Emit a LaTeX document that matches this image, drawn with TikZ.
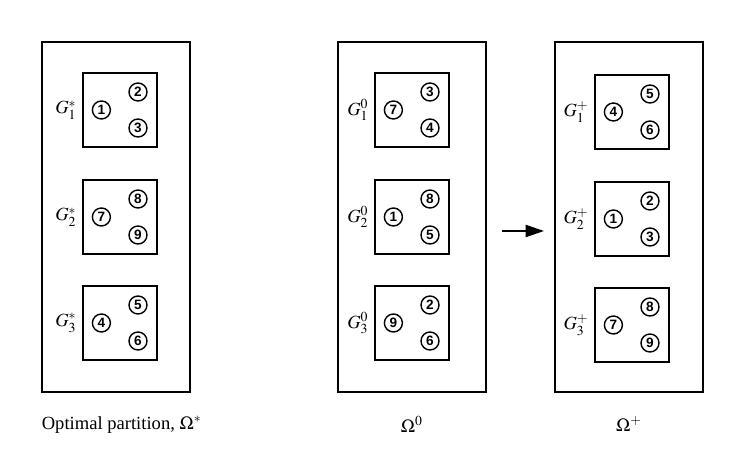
\documentclass[tikz,border=0pt]{standalone}
\usepackage{mathptmx}
\usepackage{fontspec}
\setmainfont{Liberation Serif}
\newfontfamily\digitfont{Liberation Sans}
\usetikzlibrary{calc, positioning, arrows.meta}

\tikzset{
	panel/.style={draw, line width=1.3pt, minimum width=103.6pt, minimum height=245pt},
	groupbox/.style={draw, line width=1.3pt, minimum width=51.8pt, minimum height=51.8pt},
	item/.style={draw, circle, line width=1pt, minimum size=12.6pt, inner sep=0pt,
	             font=\digitfont\bfseries\fontsize{9.5}{9.5}\selectfont},
	caption/.style={font=\fontsize{13}{13}\selectfont}
}

% one group: name, centre, label, members
\newcommand{\partgroup}[6]{%
	\node [groupbox] (#1) at (#2) {};
	\node [left=0.5pt of #1, font=\fontsize{13}{13}\selectfont] (#1lab) {$#3$};
	\node [item] (#1a) at ($(#1)+(-18.6,0)$) {#4};
	\node [item] (#1b) at ($(#1)+(18,-18)$) {#5};
	\node [item] (#1c) at ($(#1)+(18,18)$) {#6};
}

\begin{document}
\begin{tikzpicture}[x=0.7pt, y=-0.7pt]
	\useasboundingbox (0,0) rectangle (737,468);

	% the three partitions
	\node [panel] (P1) at (116,217)   {};
	\node [panel] (P2) at (411.8,217) {};
	\node [panel] (P3) at (629,217)   {};

	\partgroup{A1}{120,110}{G_1^*}{1}{2}{3}
	\partgroup{A2}{120,217}{G_2^*}{7}{8}{9}
	\partgroup{A3}{120,323}{G_3^*}{4}{5}{6}

	\partgroup{B1}{412,110}{G_1^0}{7}{3}{4}
	\partgroup{B2}{412,217}{G_2^0}{1}{8}{5}
	\partgroup{B3}{412,323}{G_3^0}{9}{2}{6}

	\partgroup{C1}{632,112}{G_1^+}{4}{5}{6}
	\partgroup{C2}{632,219}{G_2^+}{1}{2}{3}
	\partgroup{C3}{632,325}{G_3^+}{7}{8}{9}

	% captions
	\node [caption, anchor=north west] (cap1) at ([xshift=-3pt, yshift=-13pt]P1.south west) {Optimal partition, $\Omega^*$};
	\node [caption, below=13pt of P2] (cap2) {$\Omega^0$};
	\node [caption, below=13pt of P3] (cap3) {$\Omega^{+}$};

	\draw [-{Triangle[length=13pt, width=8.5pt]}, line width=1.4pt]
		([xshift=11pt, yshift=-9.8pt]P2.east) -- ([xshift=-7pt, yshift=-9.8pt]P3.west);
\end{tikzpicture}
\end{document}
